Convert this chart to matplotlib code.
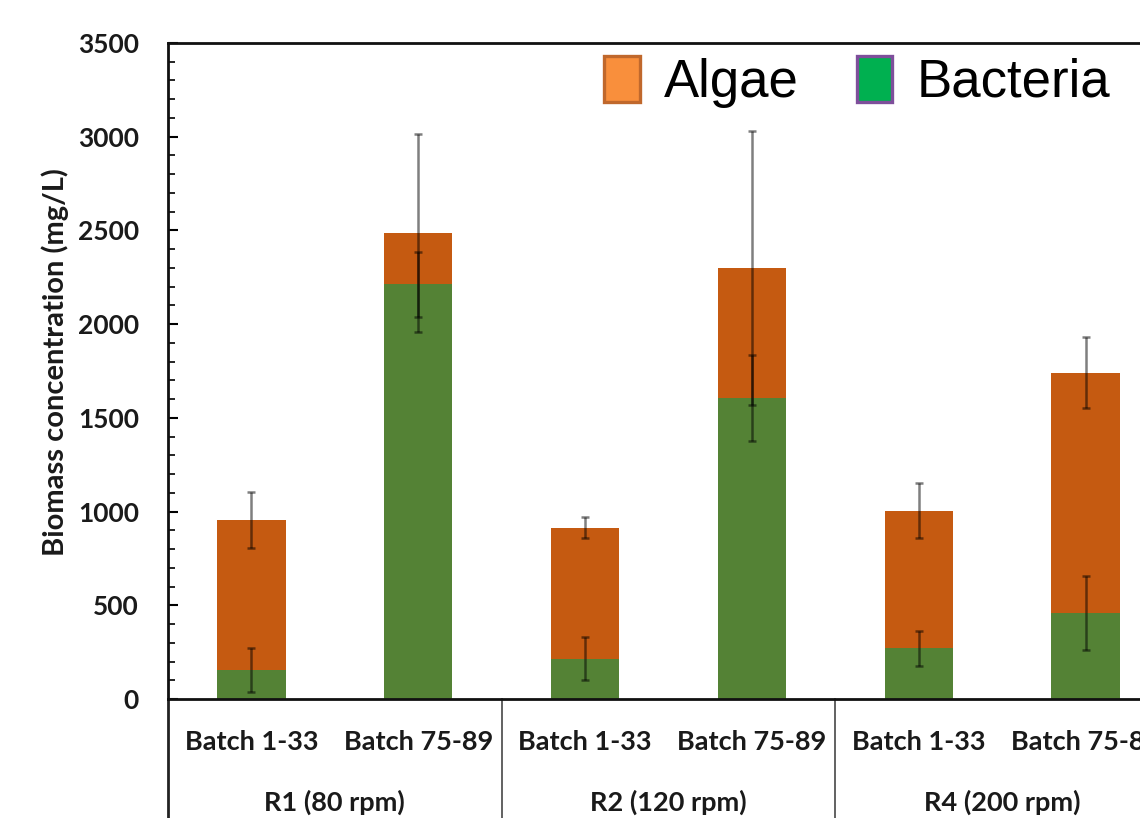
import matplotlib
matplotlib.use('Agg')
import matplotlib.pyplot as plt
from matplotlib.patches import Patch
from matplotlib.ticker import MultipleLocator

# biomass per reactor / batch range (mg/L)
batches = ['Batch 1-33', 'Batch 75-89', 'Batch 1-33', 'Batch 75-89', 'Batch 1-33', 'Batch 75-89']
reactors = ['R1 (80 rpm)', 'R2 (120 rpm)', 'R4 (200 rpm)']
bacteria = [155, 2212, 215, 1605, 270, 460]
algae = [800, 274, 700, 693, 735, 1280]
bacteria_err = [115, 172, 115, 230, 93, 196]
total_err = [147, 530, 55, 730, 147, 190]

GREEN = '#548235'
ORANGE = '#C55A11'
lab_font = 'Lato'

fig = plt.figure(figsize=(11.4, 8.18), dpi=100)
ax = fig.add_axes([168/1140, 1-699/818, 1001/1140, 656/818])

x = list(range(len(batches)))
total = [b + a for b, a in zip(bacteria, algae)]
w = 0.41

ax.bar(x, bacteria, width=w, color=GREEN, zorder=2)
ax.bar(x, algae, width=w, bottom=bacteria, color=ORANGE, zorder=2)

ax.errorbar(x, bacteria, yerr=bacteria_err, fmt='none', ecolor='black', alpha=0.5,
            elinewidth=1.8, capsize=3, capthick=1.8, zorder=3)
ax.errorbar(x, total, yerr=total_err, fmt='none', ecolor='black', alpha=0.5,
            elinewidth=1.8, capsize=3, capthick=1.8, zorder=3)

ax.set_xlim(-0.5, 5.5)
ax.set_ylim(0, 3500)
ax.yaxis.set_major_locator(MultipleLocator(500))
ax.yaxis.set_minor_locator(MultipleLocator(100))
ax.tick_params(axis='y', which='major', direction='in', length=7, width=1.5, pad=21,
               labelsize=19)
ax.tick_params(axis='y', which='minor', direction='in', length=5, width=1.2)
ax.set_xticks([])
for lab in ax.get_yticklabels():
    lab.set_fontfamily(lab_font)
    lab.set_fontweight('bold')
    lab.set_color('#1a1a1a')

for s in ['left', 'top', 'bottom']:
    ax.spines[s].set_linewidth(2)
    ax.spines[s].set_color('#111111')
ax.spines['right'].set_visible(False)

# category table under the axis
xt = ax.get_xaxis_transform()
ax.plot([-0.5, -0.5], [0, -0.25], color='#222222', lw=2, transform=xt, clip_on=False)
for sep in [1.5, 3.5]:
    ax.plot([sep, sep], [0, -0.25], color='#555555', lw=1.3, transform=xt, clip_on=False)
for i, b in enumerate(batches):
    ax.text(i, -0.0655, b, transform=xt, ha='center', va='center', fontsize=19.5,
            fontfamily=lab_font, fontweight='bold', color='#1a1a1a')
for j, r in enumerate(reactors):
    ax.text(2*j + 0.5, -0.157, r, transform=xt, ha='center', va='center', fontsize=19.5,
            fontfamily=lab_font, fontweight='bold', color='#1a1a1a')

fig.text(55/1140, 1-362/818, 'Biomass concentration (mg/L)', rotation=90,
         ha='center', va='center', fontsize=21, fontfamily=lab_font,
         fontweight='bold', color='#1a1a1a')

handles = [Patch(facecolor='#F98F3C', edgecolor='#C0682C', linewidth=2.4),
           Patch(facecolor='#00B050', edgecolor='#7E4F9B', linewidth=2.4)]
ax.legend(handles, ['Algae', 'Bacteria'], ncol=2, frameon=False,
          prop={'family': 'Liberation Sans', 'size': 38},
          handlelength=0.68, handleheight=0.95, handletextpad=0.45,
          columnspacing=1.1, borderpad=0, borderaxespad=0,
          loc='upper left', bbox_to_anchor=(604/1140, 1-56/818),
          bbox_transform=fig.transFigure)

fig.savefig('out.png', dpi=100)
